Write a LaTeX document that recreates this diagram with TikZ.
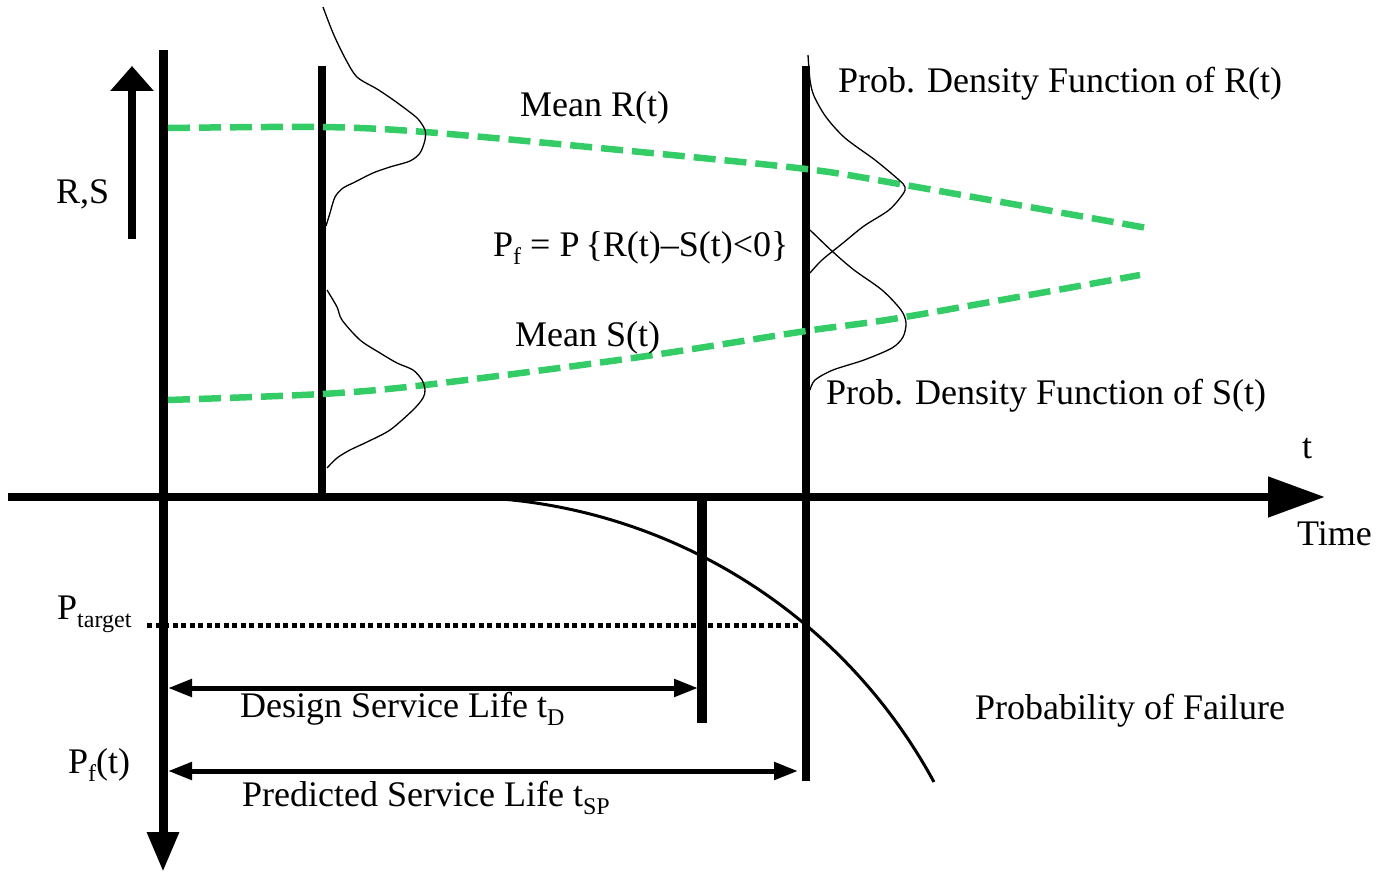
\documentclass[tikz,border=0pt]{standalone}
\usepackage{fontspec}
\setmainfont{Liberation Serif}
\usetikzlibrary{arrows.meta}

\definecolor{meangreen}{RGB}{52,204,102}
\newcommand{\lowsub}[1]{\raisebox{-8pt}{\fontsize{24}{24}\selectfont #1}}

\begin{document}
\begin{tikzpicture}[x=1pt,y=-1pt,
    txt/.style={font=\fontsize{36}{40}\selectfont,inner sep=0pt,anchor=base west},
    bar/.style={line width=8pt},
    meanline/.style={meangreen,line width=6.5pt,dash pattern=on 22pt off 9pt},
    pdfline/.style={line width=1.3pt},
    span/.style={line width=5pt}]
    \useasboundingbox (0,0) rectangle (1390,874);
    % axes
    \coordinate (O) at (163,497);
    \coordinate (top) at (163,50);
    \coordinate (bottom) at (163,872);
    \coordinate (left) at (8,497);
    \coordinate (right) at (1325,497);
    \draw[line width=9pt,-{Triangle[length=40pt,width=30pt]}] (top)--(bottom); %P_f軸
    \draw[line width=8pt,-{Triangle[length=57pt,width=39pt]}] (left)--(right); %t軸
    \draw[line width=8pt,-{Triangle[length=25pt,width=42pt]}] (132,239)--(132,66); %R,S
    % time bars
    \draw[bar] (322,66)--(322,497);
    \draw[bar] (806,66)--(806,781);
    \draw[line width=10pt] (702,497)--(702,723); %t_D
    % mean curves
    \draw[meanline] plot[smooth] coordinates {(168,128) (322,127) (425,132) (620,150) (806,169) (905,185) (1147,228)};
    \draw[meanline] plot[smooth] coordinates {(168,400) (322,394) (425,385) (633,358) (806,331) (905,317) (1140,275)};
    % density functions
    \draw[pdfline] plot[smooth,tension=0.5] coordinates {(323,7) (333,33) (345,58) (357,77) (377,89) (392,99) (407,110) (418,119) (425,130) (425,140) (420,153) (410,161) (390,167) (373,173) (353,183) (343,188) (335,197) (330,213) (326,226)};
    \draw[pdfline] plot[smooth,tension=0.5] coordinates {(327,290) (337,307) (342,320) (360,340) (380,353) (397,363) (413,370) (422,380) (425,390) (423,398) (413,410) (390,430) (367,442) (350,450) (337,458) (327,468)};
    \draw[pdfline] plot[smooth,tension=0.5] coordinates {(808,55) (810,80) (814,96) (826,117) (845,138) (875,160) (899,180) (905,187) (903,194) (889,210) (864,226) (843,243) (822,260) (810,273)};
    \draw[pdfline] plot[smooth,tension=0.5] coordinates {(810,230) (833,252) (854,270) (882,290) (901,310) (906,323) (903,337) (892,348) (864,360) (833,370) (815,380) (810,390)};
    % probability of failure
    \coordinate (fstart) at (455,497);
    \draw[line width=3pt] (fstart) arc[start angle=-90,end angle=-28.5,radius=545];
    \draw[line width=5pt,dash pattern=on 5pt off 3.5pt] (147,625)--(806,625); %P_target
    % service lives
    \coordinate (d0) at (168,688);
    \coordinate (d1) at (698,688);
    \coordinate (p0) at (168,771);
    \coordinate (p1) at (798,771);
    \draw[span,{Triangle[length=24pt,width=17pt]}-{Triangle[length=24pt,width=17pt]}] (d0)--(d1);
    \draw[span,{Triangle[length=24pt,width=17pt]}-{Triangle[length=24pt,width=17pt]}] (p0)--(p1);
    % labels
    \node[txt] (meanR) at (520,117) {Mean R(t)};
    \node[txt] (pf) at (493,257) {P\lowsub{f} = P\,\{R(t)–S(t)<0\}};
    \node[txt] (meanS) at (515,347) {Mean S(t)};
    \node[txt] (pdfR) at (838,93) {Prob. Density Function of R(t)};
    \node[txt] (pdfS) at (826,405) {Prob. Density Function of S(t)};
    \node[txt] (failure) at (975,719) {Probability of Failure};
    \node[txt] (rs) at (56,204) {R,S};
    \node[txt] (tlbl) at (1302,459) {t};
    \node[txt] (time) at (1297,545) {Time};
    \node[txt] (ptarget) at (57,619) {P\lowsub{target}};
    \node[txt] (pft) at (68,773) {P\lowsub{f}(t)};
    \node[txt] (design) at (240,717) {Design Service Life t\lowsub{D}};
    \node[txt] (predicted) at (242,806) {Predicted Service Life t\lowsub{SP}};
\end{tikzpicture}
\end{document}
